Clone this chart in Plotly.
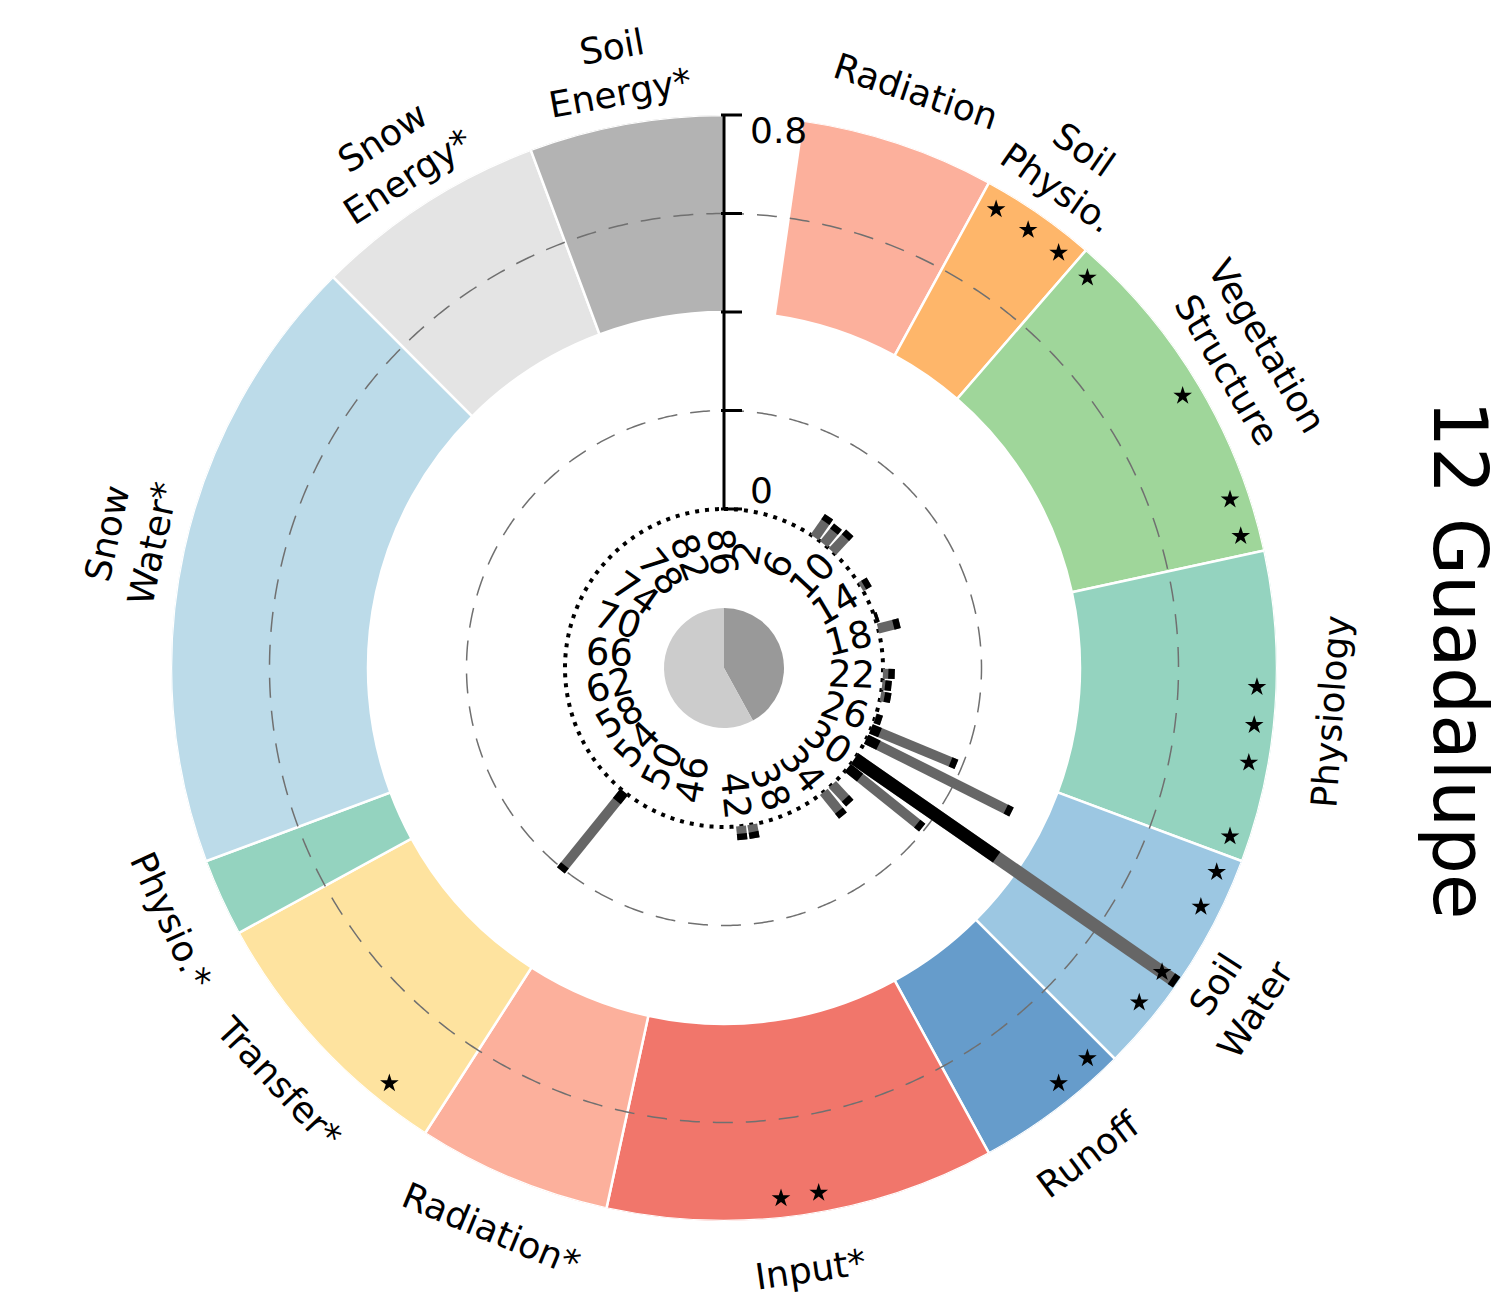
import numpy as np
import plotly.graph_objects as go

# ---- canvas / polar geometry -------------------------------------------
W, H = 1512, 1298
CX, CY, R = 724, 668, 553          # centre and outer radius of the wheel (px)
R0 = 159                           # radius where the value 0 sits (px)
RMAX = 0.8
RLO = -0.02                        # small slack below zero so the zero ring is not clipped
PX_PER_UNIT = (R - R0) / RMAX
HOLE = (R0 + RLO * PX_PER_UNIT) / R
NSLOT = 88
SLOT = 360.0 / NSLOT

# ---- data ----------------------------------------------------------------
group_names = ["Radiation", "Soil<br>Physio.", "Vegetation<br>Structure", "Physiology",
               "Soil<br>Water", "Runoff", "Input*", "Radiation*", "Transfer*",
               "Physio.*", "Snow<br>Water*", "Snow<br>Energy*", "Soil<br>Energy*"]
group_sizes = [5, 3, 9, 8, 6, 4, 10, 5, 7, 2, 16, 6, 5]
group_colors = ["#fcb09c", "#feb66a", "#9fd69a", "#94d3bf", "#9cc7e2", "#669ccb",
                "#f1766b", "#fcb09c", "#fee39f", "#94d3bf", "#bcdbe9", "#e4e4e4",
                "#b3b3b3"]
first_slot = 2

param_ids = list(range(2, 87, 4))

bar_slots = [8, 9, 10, 14, 17, 18, 22, 23, 24, 26, 27, 28, 30, 31, 33, 34, 41, 42, 53]
bar_total = [0.051, 0.046, 0.052, 0.020, 0.007, 0.045, 0.024, 0.019, 0.021, 0.014,
             0.188, 0.330, 0.796, 0.194, 0.052, 0.062, 0.028, 0.028, 0.205]
bar_main = [0.0, 0.0, 0.0, 0.0, 0.0, 0.0, 0.0, 0.0, 0.0, 0.0,
            0.020, 0.028, 0.351, 0.032, 0.0, 0.0, 0.0, 0.0, 0.024]

star_slots = [7, 8, 9, 10, 14, 17, 18, 22, 23, 24, 26, 27, 28, 30, 31, 33, 34, 41, 42, 53]
star_level = 0.76

pie_share = [0.42, 0.58]
pie_colors = ["#999999", "#cccccc"]

radial_ticks = [0.0, 0.2, 0.4, 0.6, 0.8]
radial_ticklabels = {0.0: "0", 0.8: "0.8"}
dashed_levels = [0.2, 0.6]
ring_base, ring_top = 0.4, 0.8

title = "12 Guadalupe"

FONT = "DejaVu Sans"


# ---- helpers -------------------------------------------------------------
def slot_angle(k):
    return (k + 0.5) * SLOT


def rpx(v):
    return R0 + v * PX_PER_UNIT


def paper(theta_deg, r_px):
    t = np.radians(theta_deg)
    x = CX + r_px * np.sin(t)
    y = CY - r_px * np.cos(t)
    return x / W, 1 - y / H


fig = go.Figure()

# ---- coloured group ring -------------------------------------------------
starts = np.cumsum([first_slot] + group_sizes[:-1])
for name, n, s, col in zip(group_names, group_sizes, starts, group_colors):
    fig.add_trace(go.Barpolar(
        theta=[(s + n / 2) * SLOT], width=[n * SLOT],
        base=[ring_base], r=[ring_top - ring_base],
        marker=dict(color=col, line=dict(color="white", width=2.5)),
        showlegend=False, hoverinfo="skip"))

# ---- dashed reference circles -------------------------------------------
circ = np.linspace(0, 360, 721)
for lv in dashed_levels:
    fig.add_trace(go.Scatterpolar(
        theta=circ, r=[lv] * len(circ), mode="lines",
        line=dict(color="#707070", width=1.5, dash="20px,13px"),
        showlegend=False, hoverinfo="skip"))

# ---- dotted zero circle --------------------------------------------------
fig.add_trace(go.Scatterpolar(
    theta=circ, r=[0.0] * len(circ), mode="lines",
    line=dict(color="black", width=4, dash="4px,6px"),
    showlegend=False, hoverinfo="skip"))


# ---- sensitivity bars ----------------------------------------------------
def build(ks, a_list, b_list):
    th, rr = [], []
    for k, a, b in zip(ks, a_list, b_list):
        if b - a <= 0:
            continue
        ang = slot_angle(k)
        th += [ang, ang, None]
        rr += [a, b, None]
    return th, rr


cap = 0.013
for wide in (False, True):
    sel = [i for i, t in enumerate(bar_total) if (t > 0.5) == wide]
    lw = 13 if wide else 10
    ks = [bar_slots[i] for i in sel]
    tot = [bar_total[i] for i in sel]
    mn = [bar_main[i] for i in sel]

    for a_list, b_list, col in (([0.0] * len(ks), tot, "#666666"),
                                ([0.0] * len(ks), mn, "black"),
                                ([max(t - cap, 0.0) for t in tot], tot, "black")):
        th, rr = build(ks, a_list, b_list)
        fig.add_trace(go.Scatterpolar(theta=th, r=rr, mode="lines", connectgaps=False,
                                      line=dict(color=col, width=lw),
                                      showlegend=False, hoverinfo="skip"))

# ---- markers for informative parameters ---------------------------------
fig.add_trace(go.Scatterpolar(
    theta=[slot_angle(k) for k in star_slots], r=[star_level] * len(star_slots),
    mode="markers", marker=dict(symbol="star", size=14, color="black"),
    showlegend=False, hoverinfo="skip"))

# ---- radial axis (drawn along 12 o'clock) -------------------------------
fig.add_trace(go.Scatterpolar(theta=[0, 0], r=[0, RMAX], mode="lines",
                              line=dict(color="black", width=3),
                              showlegend=False, hoverinfo="skip"))
shapes = []
annotations = []
for v in radial_ticks:
    y = 1 - (CY - rpx(v)) / H
    shapes.append(dict(type="line", xref="paper", yref="paper",
                       x0=(CX - 3) / W, x1=(CX + 18) / W, y0=y, y1=y,
                       line=dict(color="black", width=3)))
    if v in radial_ticklabels:
        dy = 19 if v == 0 else -15
        annotations.append(dict(
            x=(CX + 24) / W, y=1 - (CY - rpx(v) - dy) / H, xref="paper", yref="paper",
            text=radial_ticklabels[v], showarrow=False, xanchor="left", yanchor="middle",
            font=dict(family=FONT, size=36, color="black")))

# ---- parameter index labels inside the zero circle ----------------------
for k in param_ids:
    th = slot_angle(k)
    txt = str(k)
    if th < 180:
        ang = th + 1.0
        r_c = 106 + 11 * len(txt)
        rot = th - 90
    else:
        ang = th + 5.5
        r_c = 116
        rot = th - 270
    x, y = paper(ang, r_c)
    annotations.append(dict(x=x, y=y, xref="paper", yref="paper", text=txt,
                            showarrow=False, textangle=rot,
                            xanchor="center", yanchor="middle",
                            font=dict(family=FONT, size=37, color="black")))

# ---- group labels around the wheel --------------------------------------
for name, n, s in zip(group_names, group_sizes, starts):
    th = (s + n / 2) * SLOT
    if 90 < th < 270:
        rot = th - 180
    else:
        rot = th if th <= 180 else th - 360
    x, y = paper(th, 608)
    annotations.append(dict(x=x, y=y, xref="paper", yref="paper", text=name,
                            showarrow=False, textangle=rot, borderpad=0,
                            xanchor="center", yanchor="middle",
                            font=dict(family=FONT, size=36, color="black")))

# ---- title ----------------------------------------------------------------
annotations.append(dict(x=1460 / W, y=1 - 660 / H, xref="paper", yref="paper",
                        text=title, showarrow=False, textangle=90,
                        xanchor="center", yanchor="middle",
                        font=dict(family=FONT, size=74, color="black")))

# ---- centre pie -----------------------------------------------------------
PR = 60
fig.add_trace(go.Pie(values=pie_share, marker=dict(colors=pie_colors, line=dict(width=0)),
                     sort=False, direction="clockwise", rotation=0,
                     textinfo="none", hoverinfo="skip", showlegend=False,
                     domain=dict(x=[(CX - PR) / W, (CX + PR) / W],
                                 y=[1 - (CY + PR) / H, 1 - (CY - PR) / H])))

fig.update_layout(
    width=W, height=H, margin=dict(l=0, r=0, t=0, b=0),
    paper_bgcolor="white", plot_bgcolor="white", showlegend=False,
    polar=dict(
        domain=dict(x=[(CX - R) / W, (CX + R) / W],
                    y=[1 - (CY + R) / H, 1 - (CY - R) / H]),
        hole=HOLE, bgcolor="white",
        radialaxis=dict(range=[RLO, RMAX], visible=False, showgrid=False),
        angularaxis=dict(rotation=90, direction="clockwise", visible=False,
                         showgrid=False, showline=False),
    ),
    shapes=shapes, annotations=annotations,
)

fig.write_html("out.html")
